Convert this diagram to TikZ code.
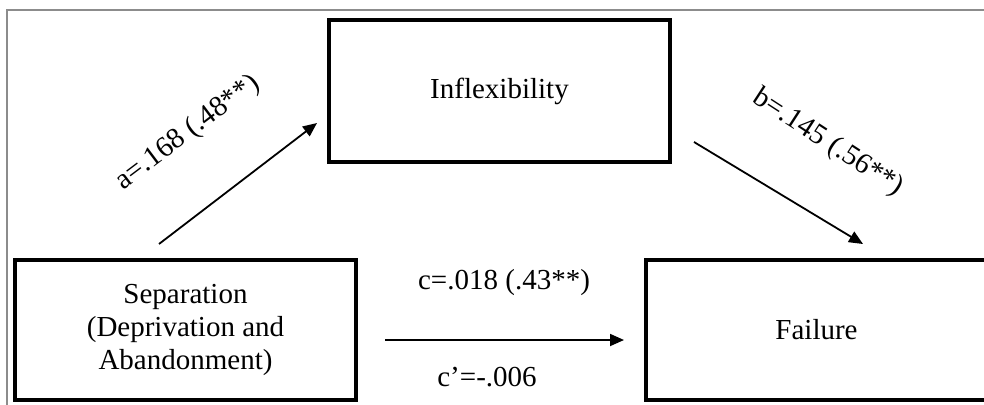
\documentclass[tikz,border=0pt]{standalone}
\usepackage{fontspec}
\setmainfont{Liberation Serif}
\usetikzlibrary{arrows.meta}
\begin{document}
\begin{tikzpicture}[x=1pt,y=-1pt,
  boxnode/.style={draw=black,line width=4pt,minimum width=341pt,inner sep=0pt,align=center,
    font=\fontsize{29}{33}\selectfont},
  lbl/.style={inner sep=0pt,font=\fontsize{29}{33}\selectfont},
  arr/.style={line width=1.8pt,-{Triangle[length=14pt,width=12pt]}},
  frame/.style={draw=black!45,line width=1.5pt}]
\useasboundingbox (0,0) rectangle (984,404);
\clip (0,0) rectangle (984,404);
% outer frame
\coordinate (f1) at (990,10);
\coordinate (f2) at (7,10);
\coordinate (f3) at (7,410);
\draw[frame] (f1) -- (f2) -- (f3);
% boxes
\node[boxnode,minimum height=142pt] (infl) at (499.5,91) {Inflexibility};
\node[boxnode,minimum height=140pt] (sep) at (185.5,330) {Separation\\(Deprivation and\\Abandonment)};
\node[boxnode,minimum height=140pt] (fail) at (816.5,330) {Failure};
% arrow end points
\coordinate (a1) at (159,244);
\coordinate (a2) at (317,123);
\coordinate (b1) at (694,142);
\coordinate (b2) at (863,244);
\coordinate (c1) at (385,340);
\coordinate (c2) at (624,340);
\draw[arr] (a1) -- (a2);
\draw[arr] (b1) -- (b2);
\draw[arr] (c1) -- (c2);
% labels
\node[lbl,rotate=37] (la) at (188,133) {a=.168 (.48**)};
\node[lbl,rotate=-33] (lb) at (828,143) {b=.145 (.56**)};
\node[lbl] (lc) at (504,283) {c=.018 (.43**)};
\node[lbl] (lc2) at (487,377) {c’=-.006};
\end{tikzpicture}
\end{document}
